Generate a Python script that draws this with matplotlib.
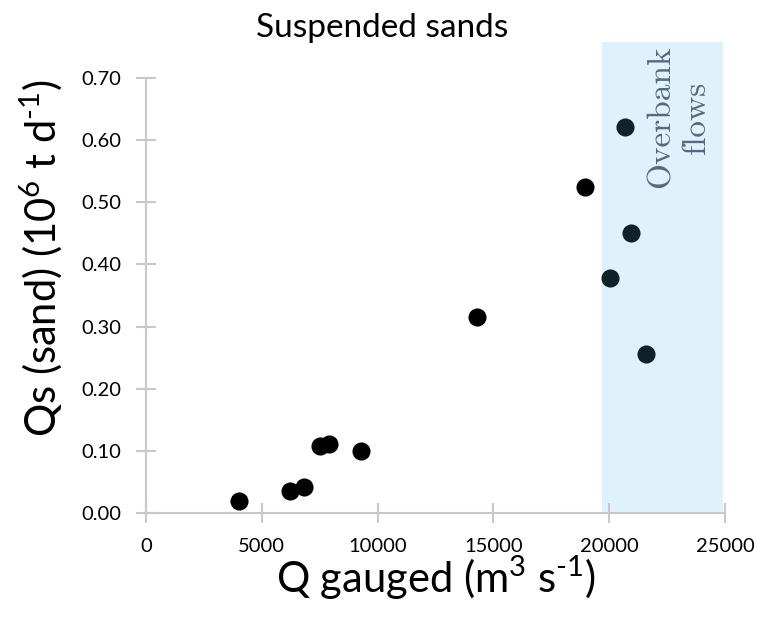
import matplotlib
matplotlib.use("Agg")
import matplotlib.pyplot as plt

# gauged discharge (m3/s) and suspended sand load (10^6 t/d)
q_gauged = [4000, 6200, 6800, 7500, 7900, 9300, 14300, 18950]
qs_sand = [0.019, 0.035, 0.042, 0.108, 0.111, 0.100, 0.316, 0.525]

# overbank events
q_overbank = [20700, 20950, 20050, 21600]
qs_overbank = [0.622, 0.451, 0.378, 0.256]

overbank_range = (19700, 24900)
x_ticks = [0, 5000, 10000, 15000, 20000, 25000]
y_ticks = [0.0, 0.1, 0.2, 0.3, 0.4, 0.5, 0.6, 0.7]

plt.rcParams["font.family"] = ["Lato", "DejaVu Sans"]
plt.rcParams["mathtext.fontset"] = "custom"
plt.rcParams["mathtext.rm"] = "Lato"
plt.rcParams["mathtext.it"] = "Lato:italic"
axis_grey = "#c8c8c8"

fig = plt.figure(figsize=(7.71, 6.26), dpi=100)
ax = fig.add_axes([0.1895, 0.1805, 0.7508, 0.7524])

ax.axvspan(*overbank_range, ymin=-0.004, ymax=1, color="#dff2fb", zorder=0, lw=0)
ax.scatter(q_gauged, qs_sand, s=170, color="black", zorder=3, lw=0)
ax.scatter(q_overbank, qs_overbank, s=170, color="#0f2129", zorder=3, lw=0)

ax.text(23000, 0.637, "Overbank\nflows", rotation=90, ha="center", va="center",
        multialignment="center", family="cmr10", fontsize=24,
        color="#55697e", linespacing=1.25)

ax.set_xlim(0, 25000)
ax.set_ylim(0, 0.758)
ax.set_xticks(x_ticks)
ax.set_yticks(y_ticks)
ax.set_yticklabels([f"{v:.2f}" for v in y_ticks])

for side in ("top", "right"):
    ax.spines[side].set_visible(False)
for side in ("left", "bottom"):
    ax.spines[side].set_color(axis_grey)
    ax.spines[side].set_linewidth(1.5)
ax.spines["left"].set_bounds(0, 0.7)
ax.tick_params(direction="inout", length=14, width=1.5, color=axis_grey,
               labelsize=14.5, pad=11)

fig.text(0.4955, 0.955, "Suspended sands", ha="center", va="center", fontsize=24)
ax.set_xlabel(r"Q gauged (m$^3$ s$^{\text{-}1}$)", fontsize=30, labelpad=-1)
ax.set_ylabel(r"Qs (sand) (10$^6$ t d$^{\text{-}1}$)", fontsize=30)
ax.yaxis.set_label_coords(-0.142, 0.541)

fig.savefig("out.png", dpi=100)
